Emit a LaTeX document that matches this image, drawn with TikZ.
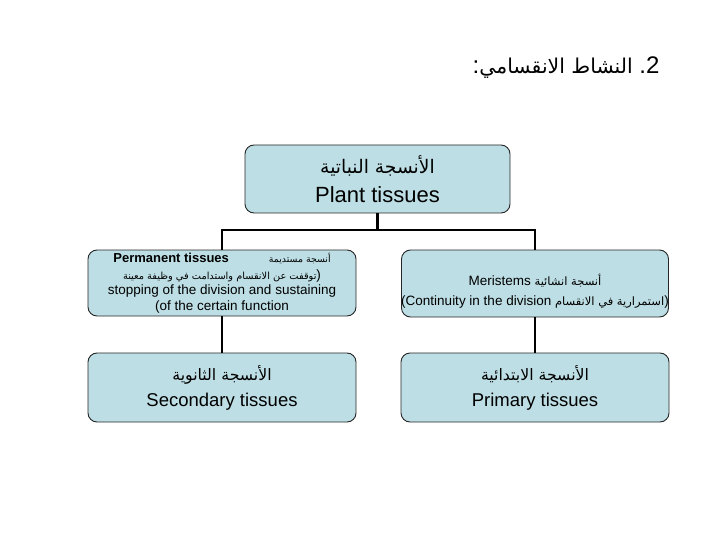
\documentclass[tikz,border=0pt]{standalone}
\usepackage{fontspec}
\setmainfont{Liberation Sans}
\newfontfamily\arabicfont[Script=Arabic,Scale=0.85]{DejaVu Sans}
\TeXXeTstate=1
\usetikzlibrary{positioning}
\definecolor{tissuefill}{RGB}{189,222,228}

\begin{document}
\begin{tikzpicture}[x=1pt,y=-1pt,
  tissue/.style={rectangle,rounded corners=9pt,draw=black!85,line width=0.9pt,fill=tissuefill,align=center,inner sep=2pt},
  link/.style={line width=2.6pt}]
\useasboundingbox (0,0) rectangle (720,540);
\node (title) at (663,68) [anchor=east,font=\fontsize{24}{28}\selectfont] {:{\arabicfont\beginR النشاط الانقسامي\endR}\ .2};
\node[tissue,minimum width=265pt,minimum height=68pt,font=\fontsize{22}{29}\selectfont] (plant) at (377.5,179) {{\arabicfont\beginR الأنسجة النباتية\endR}\\Plant tissues};
\node[tissue,minimum width=268pt,minimum height=66pt,font=\fontsize{13.5}{15.5}\selectfont] (perm) at (222,283) {{\fontsize{13}{15.5}\selectfont\bfseries Permanent tissues\hspace{40pt}\mdseries\fontsize{11}{15.5}\selectfont\arabicfont\beginR أنسجة مستديمة\endR}\\[1pt]{\fontsize{11.5}{15.5}\selectfont\arabicfont\beginR توقفت عن الانقسام واستدامت في وظيفة معينة\endR})\\stopping of the division and sustaining\\(of the certain function};
\node[tissue,minimum width=267pt,minimum height=67pt] (merist) at (535,283.5) {};
\node[align=center,font=\fontsize{13.5}{20}\selectfont] (meritext) at (535,291) {Meristems {\arabicfont\beginR أنسجة انشائية\endR}\\(Continuity in the division {\arabicfont\beginR استمرارية في الانقسام\endR})};
\node[tissue,minimum width=268pt,minimum height=69pt,font=\fontsize{18.5}{26}\selectfont] (second) at (222,387.5) {{\arabicfont\beginR الأنسجة الثانوية\endR}\\Secondary tissues};
\node[tissue,minimum width=268pt,minimum height=69pt,font=\fontsize{18.5}{26}\selectfont] (primary) at (535,387.5) {{\arabicfont\beginR الأنسجة الابتدائية\endR}\\Primary tissues};
% tree connectors
\coordinate (bus) at (377.5,230);
\draw[link] (plant.south) -- (bus);
\draw[link] (perm.north) |- (bus) -| (merist.north);
\draw[link] (perm.south) -- (second.north);
\draw[link] (merist.south) -- (primary.north);
\end{tikzpicture}
\end{document}
